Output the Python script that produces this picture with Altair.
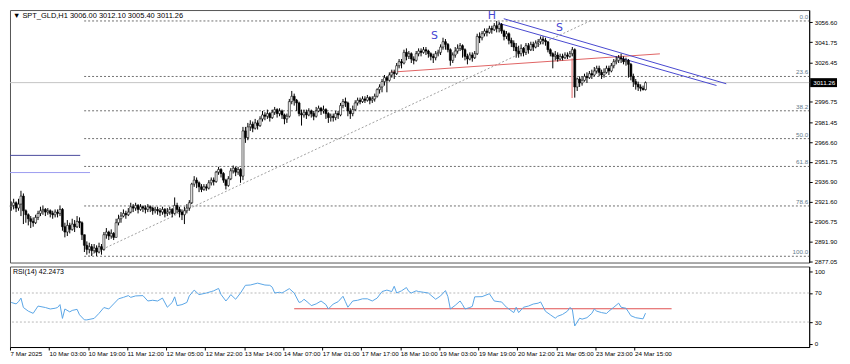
import altair as alt
import pandas as pd

# ---------------- data ----------------
title_text = "\u25bc SPT_GLD,H1 3006.00 3012.10 3005.40 3011.26"
first_open = 2918.0

close = [
    2919, 2921, 2917, 2920, 2926, 2915, 2912, 2909, 2907, 2906,
    2910, 2913, 2915, 2916, 2914, 2915, 2913, 2912, 2914, 2913,
    2916, 2903, 2899, 2904, 2901, 2905, 2903, 2907, 2906, 2897,
    2889, 2886, 2888, 2885, 2887, 2884, 2888, 2886, 2897, 2899,
    2896, 2898, 2895, 2906, 2909, 2911, 2913, 2912, 2914, 2918,
    2917, 2919, 2916, 2918, 2917, 2916, 2918, 2917, 2915, 2916,
    2915, 2914, 2916, 2913,
    2914, 2916, 2913, 2919, 2916, 2914, 2912, 2915, 2917, 2921,
    2935, 2938, 2936, 2933, 2931, 2933, 2932, 2936, 2938, 2937,
    2944, 2946, 2943, 2938, 2934, 2939, 2945, 2947, 2944, 2946, 2941,
    2975, 2970, 2978, 2980, 2977, 2981, 2979,
    2984, 2987, 2986, 2988, 2985, 2989, 2991, 2988, 2990, 2987,
    2984, 2986, 2997, 3001, 2998, 2996, 2988, 2987,
    2989, 2987, 2990, 2988, 2986, 2990, 2992, 2990, 2991, 2988, 2985,
    2986, 2985, 2988, 2987, 2994, 2997, 2996, 2990, 2988, 2991,
    2996, 2998, 2997, 2999, 2998, 3000, 2998, 2999, 3001,
    3006, 3008, 3012, 3015, 3013, 3017, 3019, 3018, 3024, 3027, 3026,
    3034, 3031, 3033, 3029, 3028, 3033, 3035, 3034, 3036, 3035,
    3033, 3031, 3030, 3033, 3034, 3038, 3042, 3040, 3036, 3028,
    3032, 3035, 3037, 3039, 3036, 3031, 3029, 3032, 3030,
    3033, 3046, 3045, 3048, 3050, 3049, 3052, 3051, 3054, 3052,
    3055, 3050, 3046, 3048, 3043, 3041, 3038, 3035, 3033, 3037,
    3034, 3039, 3036, 3040, 3038, 3041, 3042, 3044, 3043, 3042,
    3036, 3033, 3031, 3032, 3029, 3031, 3030, 3032, 3031, 3033, 3036,
    3008, 3014, 3011, 3013, 3016, 3015, 3018, 3017, 3020,
    3022, 3019, 3017, 3019, 3022, 3020, 3024, 3027, 3028, 3030,
    3029, 3027, 3028, 3025, 3016, 3012, 3010, 3008, 3007, 3006.0, 3011.26,
]

high = [
    2922, 2924, 2922, 2924, 2930, 2928, 2916, 2913, 2911, 2910,
    2912, 2915, 2918, 2919, 2917, 2917, 2916, 2915, 2916, 2916,
    2919, 2917, 2906, 2908, 2906, 2909, 2908, 2911, 2910, 2907,
    2897, 2892, 2891, 2890, 2890, 2889, 2891, 2890, 2899, 2902,
    2900, 2901, 2899, 2909, 2912, 2914, 2916, 2915, 2917, 2921,
    2920, 2921, 2920, 2920, 2919, 2919, 2920, 2919, 2918, 2918,
    2918, 2917, 2918, 2917,
    2917, 2918, 2917, 2925, 2921, 2918, 2916, 2918, 2920, 2923,
    2936, 2941, 2940, 2937, 2935, 2935, 2935, 2938, 2940, 2940,
    2945, 2948, 2947, 2944, 2939, 2941, 2947, 2949, 2948, 2948, 2947,
    2978, 2978, 2981, 2983, 2982, 2984, 2983,
    2986, 2990, 2989, 2991, 2989, 2991, 2993, 2992, 2992, 2991,
    2988, 2988, 2999, 3005, 3003, 2999, 2997, 2991,
    2991, 2991, 2992, 2991, 2990, 2993, 2994, 2993, 2994, 2992, 2989,
    2988, 2988, 2990, 2990, 2996, 2999, 3000, 2997, 2992, 2994,
    2998, 3000, 3000, 3001, 3001, 3002, 3001, 3001, 3003,
    3007, 3010, 3014, 3017, 3016, 3019, 3021, 3021, 3026, 3029, 3029,
    3036, 3037, 3035, 3034, 3031, 3035, 3037, 3037, 3038, 3038,
    3036, 3034, 3033, 3035, 3036, 3040, 3045, 3044, 3041, 3037,
    3034, 3038, 3040, 3041, 3040, 3037, 3033, 3034, 3034,
    3035, 3048, 3049, 3050, 3052, 3052, 3054, 3054, 3056, 3057.6,
    3057, 3056, 3051, 3050, 3049, 3045, 3043, 3041, 3039, 3040,
    3038, 3041, 3041, 3042, 3042, 3043, 3044, 3046, 3046, 3045,
    3042, 3037, 3034, 3035, 3034, 3033, 3033, 3034, 3034, 3035, 3038,
    3037, 3015, 3016, 3016, 3018, 3019, 3020, 3021, 3023,
    3024, 3024, 3021, 3022, 3024, 3024, 3026, 3029, 3031, 3032,
    3033, 3031, 3030, 3029, 3026, 3018, 3014, 3012, 3010, 3009, 3012.10,
]

low = [
    2915, 2916, 2914, 2915, 2911, 2905, 2906, 2904, 2902, 2903,
    2905, 2908, 2911, 2912, 2911, 2912, 2910, 2909, 2910, 2910,
    2911, 2900, 2895, 2896, 2898, 2900, 2899, 2902, 2902, 2893,
    2884, 2882, 2883, 2881, 2883, 2881, 2883, 2882, 2885, 2894,
    2893, 2894, 2893, 2895, 2904, 2906, 2910, 2909, 2911, 2913,
    2914, 2915, 2913, 2915, 2914, 2913, 2914, 2914, 2912, 2913,
    2912, 2911, 2912, 2910,
    2911, 2912, 2910, 2912, 2913, 2910, 2908, 2905, 2913, 2915,
    2920, 2933, 2932, 2929, 2929, 2930, 2930, 2931, 2934, 2934,
    2936, 2942, 2940, 2936, 2931, 2933, 2938, 2943, 2941, 2942, 2936,
    2938, 2966, 2968, 2975, 2974, 2976, 2976,
    2978, 2982, 2983, 2984, 2982, 2984, 2987, 2985, 2986, 2984,
    2980, 2981, 2985, 2995, 2994, 2990, 2986, 2979,
    2985, 2984, 2986, 2985, 2983, 2985, 2989, 2987, 2988, 2984, 2981,
    2982, 2982, 2983, 2984, 2986, 2992, 2993, 2986, 2984, 2986,
    2990, 2994, 2995, 2996, 2996, 2997, 2995, 2996, 2997,
    3000, 3003, 3004, 3009, 3004, 3012, 3015, 3014, 3017, 3022, 3022,
    3025, 3028, 3029, 3026, 3025, 3027, 3031, 3031, 3033, 3032,
    3030, 3028, 3026, 3028, 3031, 3032, 3036, 3036, 3034, 3024,
    3026, 3030, 3033, 3035, 3030, 3028, 3025, 3028, 3027,
    3029, 3032, 3041, 3043, 3046, 3046, 3048, 3048, 3050, 3049,
    3049, 3048, 3043, 3044, 3040, 3038, 3035, 3030, 3030, 3031,
    3031, 3032, 3033, 3035, 3035, 3037, 3038, 3040, 3040, 3039,
    3034, 3031, 3022, 3028, 3027, 3028, 3028, 3029, 3029, 3030, 3031,
    3000, 3005, 3008, 3009, 3012, 3011, 3014, 3014, 3016,
    3018, 3016, 3014, 3015, 3018, 3017, 3019, 3022, 3025, 3026,
    3026, 3025, 3024, 3015, 3013, 3008, 3006, 3005, 3004.7, 3005.4, 3005.4,
]

# RSI(14) read at these bar positions
rsi_bar = [0, 2, 3, 4, 5, 7, 9, 11, 14, 16, 18, 19, 20, 21, 22, 24, 25, 27, 28, 30,
           31, 34, 36, 38, 40, 42, 44, 46, 48, 49, 51, 54, 56, 58, 60, 62, 64, 66, 67, 68,
           70, 72, 73, 75, 77, 80, 82, 83, 85, 86, 88, 89, 90, 92, 94, 96, 98, 101, 104, 106,
           107, 108, 110, 111, 112, 114, 116, 118, 119, 120, 122, 123, 125, 127, 129, 130, 132, 134, 136, 137,
           138, 140, 142, 144, 146, 148, 150, 152, 154, 156, 157, 158, 160, 162, 163, 164, 166, 167, 169, 171,
           172, 174, 176, 178, 179, 180, 182, 184, 185, 186, 188, 189, 190, 193, 196, 198, 200, 201, 203, 204,
           206, 207, 208, 210, 212, 214, 216, 217, 219, 221, 223, 224, 226, 228, 229, 230, 231, 233, 234, 236,
           238, 239, 240, 242, 244, 245, 247, 249, 250, 252, 253, 254, 256, 259, 260]
rsi_val = [57, 55, 58, 63, 50, 45, 42, 52, 50, 48, 49, 50, 54, 35, 48, 44, 46, 47.5, 40, 33,
           33, 35, 42, 50, 48, 55, 62, 64, 66.4, 64, 66, 66.4, 59, 60, 59, 63, 50.4, 57, 64.7, 52.6,
           54, 57, 66, 74, 67.8, 70, 72, 73, 76.3, 68, 59, 63, 67.8, 61.4, 70, 80.6, 81, 83.6, 81, 80.6,
           78, 70, 71, 70, 72, 76, 70, 57, 58, 61.4, 56, 52.6, 55, 59, 54, 48, 54.8, 58, 65.5, 58,
           50.4, 59, 60, 62, 62, 59, 63, 72, 74, 72, 79.3, 70, 73, 77.5, 72, 70, 73, 72, 71, 70,
           67, 61.4, 66, 73.3, 65, 48, 53, 59, 54, 48, 50, 51.6, 64.7, 65, 69, 59, 58, 57.7, 50.4, 48,
           43, 50.4, 43, 50.4, 52, 54.8, 56, 57.7, 44.8, 40, 35.3, 38, 40.5, 45, 50, 47.5, 24.6, 35.3, 34, 36,
           42, 48, 45, 43, 41.8, 45, 50.4, 56, 50.4, 49, 44, 38.7, 36, 34.4, 42.2]
rsi_text = "RSI(14) 42.2473"
rsi_levels = [70, 30]
rsi_support = {"x": 116, "x2": 270.7, "y": 48.3}

# Fibonacci retracement (0 = 3057.6 high, 100 = 2880.8 low)
fib_names = ["0.0", "23.6", "38.2", "50.0", "61.8", "78.6", "100.0"]
fib_price = [3057.6, 3015.9, 2990.1, 2969.2, 2948.3, 2918.6, 2880.8]
fib_start_bar = 29.9

last_price = 3011.26
price_ticks = [3056.60, 3041.75, 3026.45, 2996.75, 2981.45, 2966.60,
               2951.75, 2936.90, 2921.60, 2906.75, 2891.90, 2877.05]
rsi_ticks = [0, 30, 70, 100]

x_tick_bar = [-0.5, 15.5, 31.5, 47.5, 63.5, 79.5, 95.5, 111.5, 127.5,
              143.5, 159.5, 175.5, 191.5, 207.5, 223.5, 239.5, 255.5]
x_labels = ["7 Mar 2025", "10 Mar 03:00", "10 Mar 19:00", "11 Mar 12:00",
            "12 Mar 05:00", "12 Mar 22:00", "13 Mar 14:00", "14 Mar 07:00",
            "17 Mar 01:00", "17 Mar 17:00", "18 Mar 10:00", "19 Mar 03:00",
            "19 Mar 19:00", "20 Mar 12:00", "21 Mar 05:00", "23 Mar 23:00",
            "24 Mar 15:00"]

# drawn objects: (bar, price) -> (bar2, price2)
seg_kind = ["trend", "neck", "neckdrop", "chan1", "chan2", "lvl_dark", "lvl_light"]
seg_x = [31.5, 155.5, 229.9, 201.9, 199.9, -0.5, -0.5]
seg_y = [2881.0, 3019.1, 3029.5, 3059.3, 3055.8, 2956.6, 2943.7]
seg_x2 = [237.5, 265.9, 229.9, 293.1, 289.1, 28.3, 32.3]
seg_y2 = [3057.8, 3032.9, 2999.7, 3010.4, 3009.1, 2956.6, 2943.7]

pattern_txt = ["S", "H", "S"]
pattern_bar = [173.5, 197.0, 224.7]
pattern_price = [3046.0, 3061.5, 3052.0]

# ---------------- frames ----------------
opens = [first_open] + close[:-1]
df = pd.DataFrame({"i": list(range(len(close))), "o": opens, "h": high, "l": low, "c": close})
df["h"] = df[["h", "o", "c"]].max(axis=1)
df["l"] = df[["l", "o", "c"]].min(axis=1)
df["dir"] = ["up" if c >= o else "down" for o, c in zip(df["o"], df["c"])]

segs = pd.DataFrame({"k": seg_kind, "x": seg_x, "y": seg_y, "x2": seg_x2, "y2": seg_y2})
fib = pd.DataFrame({"n": fib_names, "p": fib_price, "x": fib_start_bar, "x2": 327.1})
rsi = pd.DataFrame({"i": rsi_bar, "v": rsi_val})
pat = pd.DataFrame({"t": pattern_txt, "x": pattern_bar, "y": pattern_price})

# ---------------- layout ----------------
W, H1, H2 = 804, 254, 81
FONT = "Liberation Sans"
FS = 6.3
xs = alt.Scale(domain=[-0.5, 327.1], nice=False, zero=False, padding=0)
ys = alt.Scale(domain=[2876.1, 3065.8], nice=False, zero=False, padding=0)
rs = alt.Scale(domain=[-4.4, 106.5], nice=False, zero=False, padding=0)

yaxis = alt.Axis(orient="right", values=price_ticks, format=".2f", title=None,
                 labelFontSize=FS, labelFont=FONT, tickSize=3, labelPadding=2,
                 labelFlush=False, labelOverlap=False, grid=False,
                 domainColor="#000", tickColor="#000", labelColor="#000")
X = lambda f: alt.X(f, type="quantitative", scale=xs, axis=None)
Y = lambda f: alt.Y(f, type="quantitative", scale=ys, axis=yaxis)

fib_lines = alt.Chart(fib).mark_rule(color="#707070", strokeDash=[2, 2], strokeWidth=1).encode(
    x=X("x"), x2="x2", y=Y("p"))
fib_text = alt.Chart(fib).mark_text(align="right", baseline="bottom", dx=-1, dy=-1,
                                     fontSize=FS, font=FONT, color="#5f7a8c").encode(
    x=X("x2"), y=Y("p"), text="n:N")
price_line = alt.Chart(pd.DataFrame({"p": [last_price]})).mark_rule(
    color="#c4c4c4", strokeWidth=1).encode(y=Y("p"))

seg_color = alt.Color("k:N", legend=None, scale=alt.Scale(
    domain=seg_kind,
    range=["#a0a0a0", "#e06464", "#e06464", "#4848d0", "#4848d0", "#4a4a9c", "#9c9cf0"]))
trend = alt.Chart(segs[segs.k == "trend"]).mark_rule(strokeDash=[2, 2], strokeWidth=1).encode(
    x=X("x"), y=Y("y"), x2="x2", y2="y2", color=seg_color)
others = alt.Chart(segs[segs.k != "trend"]).mark_rule(strokeWidth=1).encode(
    x=X("x"), y=Y("y"), x2="x2", y2="y2", color=seg_color)

wicks = alt.Chart(df).mark_rule(color="#000", strokeWidth=1).encode(
    x=X("i"), y=Y("l"), y2="h")
bodies = alt.Chart(df).mark_bar(width=2, stroke="#000", strokeWidth=0.6).encode(
    x=X("i"), y=Y("o"), y2="c",
    fill=alt.Fill("dir:N", legend=None,
                  scale=alt.Scale(domain=["up", "down"], range=["#ffffff", "#000000"])))

pat_text = alt.Chart(pat).mark_text(fontSize=11, font="DejaVu Sans", color="#4646d2").encode(
    x=X("x"), y=Y("y"), text="t:N")

title = alt.Chart(pd.DataFrame({"t": [title_text]})).mark_text(
    align="left", baseline="middle", fontSize=7.5, font=FONT, color="#000").encode(
    x=alt.value(3), y=alt.value(6), text="t:N")

lp = pd.DataFrame({"p": [last_price], "t": [f"{last_price:.2f}"]})
price_box = alt.Chart(lp).mark_rule(color="#000", strokeWidth=9).encode(
    x=alt.value(W + 1), x2=alt.value(W + 28), y=Y("p"))
price_txt = alt.Chart(lp).mark_text(align="left", baseline="middle", fontSize=FS,
                                     font=FONT, color="#fff").encode(
    x=alt.value(W + 4), y=Y("p"), text="t:N")

main = alt.layer(fib_lines, price_line, fib_text, trend, others, wicks, bodies,
                 pat_text, title, price_box, price_txt).properties(width=W, height=H1)

# RSI panel
label_expr = ("[" + ",".join(f"'{s}'" for s in x_labels) + "][indexof(["
              + ",".join(str(v) for v in x_tick_bar) + "], datum.value)]")
xaxis = alt.Axis(values=x_tick_bar, labelExpr=label_expr, title=None, labelAlign="left",
                 labelFontSize=FS, labelFont=FONT, tickSize=3, labelPadding=1,
                 labelFlush=False, labelOverlap=False, labelBound=False, grid=False,
                 domainColor="#000", tickColor="#000", labelColor="#000")
raxis = alt.Axis(orient="right", values=rsi_ticks, format="d", title=None,
                 labelFontSize=FS, labelFont=FONT, tickSize=3, labelPadding=2,
                 labelFlush=False, labelOverlap=False, grid=False,
                 domainColor="#000", tickColor="#000", labelColor="#000")

rsi_lv = alt.Chart(pd.DataFrame({"v": rsi_levels})).mark_rule(
    color="#b8b8b8", strokeDash=[2, 2], strokeWidth=1).encode(
    y=alt.Y("v:Q", scale=rs, axis=raxis))
rsi_red = alt.Chart(pd.DataFrame([rsi_support])).mark_rule(color="#e05050", strokeWidth=1).encode(
    x=alt.X("x:Q", scale=xs, axis=xaxis), x2="x2", y=alt.Y("y:Q", scale=rs, axis=raxis))
rsi_line = alt.Chart(rsi).mark_line(color="#5aa5e6", strokeWidth=1).encode(
    x=alt.X("i:Q", scale=xs, axis=xaxis), y=alt.Y("v:Q", scale=rs, axis=raxis))
rsi_lab = alt.Chart(pd.DataFrame({"t": [rsi_text]})).mark_text(
    align="left", baseline="middle", fontSize=7, font=FONT, color="#000").encode(
    x=alt.value(3), y=alt.value(6), text="t:N")

rsi_panel = alt.layer(rsi_lv, rsi_red, rsi_line, rsi_lab).properties(width=W, height=H2)

chart = alt.vconcat(main, rsi_panel, spacing=0).properties(padding=0).configure_view(
    stroke="#555", strokeWidth=1).configure_concat(spacing=0)

chart.save("out.html", embed_options={"renderer": "svg", "actions": False})
